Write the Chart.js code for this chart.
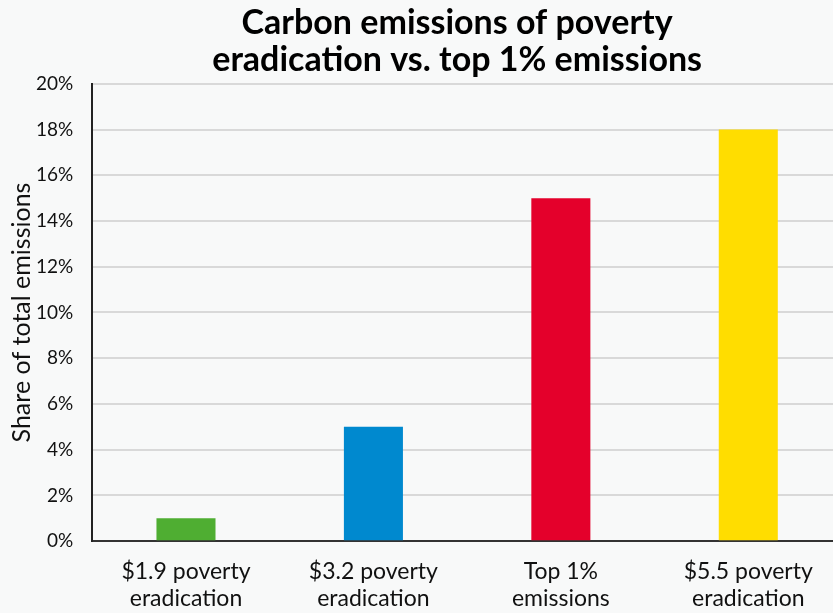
<!DOCTYPE html>
<html><head><meta charset="utf-8">
<script src="https://cdn.jsdelivr.net/npm/chart.js@4/dist/chart.umd.min.js"></script>
<style>
html,body{margin:0;padding:0;background:#f8f9f9;overflow:hidden;}
#wrap{width:842px;height:613px;}
</style></head>
<body><div id="wrap"><canvas id="c"></canvas></div>
<script>
const categories = [["$1.9 poverty","eradication"],["$3.2 poverty","eradication"],["Top 1%","emissions"],["$5.5 poverty","eradication"]];
const shareValues = [1, 5, 15, 18];
const barColors = ["#4fae32","#0089cf","#e4002b","#ffdd00"];
const titleLines = ["Carbon emissions of poverty","eradication vs. top 1% emissions"];
const yAxisTitle = "Share of total emissions";

const titleShift = {
  id: 'titleShift',
  afterLayout(chart) { if (chart.titleBlock) { chart.titleBlock.right -= 20; } }
};

new Chart(document.getElementById('c'), {
  type: 'bar',
  data: { labels: categories, datasets: [{ data: shareValues, backgroundColor: barColors, barPercentage: 0.63, categoryPercentage: 0.5 }] },
  options: {
    responsive: true, maintainAspectRatio: false, animation: false,
    devicePixelRatio: 1,
    layout: { padding: { left: 4, right: 0, top: 4, bottom: -16 } },
    plugins: {
      legend: { display: false }, tooltip: { enabled: false },
      title: { display: true, text: titleLines, fullSize: false, color: '#000',
        font: { family: 'Lato', size: 34, weight: 'bold', lineHeight: 1.1 }, padding: { top: 0, bottom: 5 } }
    },
    scales: {
      x: {
        grid: { display: false, drawTicks: false },
        border: { display: true, color: '#333', width: 2 },
        ticks: { color: '#111', font: { family: 'Lato', size: 23, lineHeight: 1.17 }, padding: 17, maxRotation: 0, autoSkip: false }
      },
      y: {
        min: 0, max: 20,
        grid: { color: '#d9d9d9', lineWidth: 2, drawTicks: false },
        border: { display: true, color: '#222', width: 2 },
        ticks: { stepSize: 2, color: '#111', padding: 19, font: { family: 'Lato', size: 19 }, callback: v => v + '%' },
        title: { display: true, text: yAxisTitle, color: '#111', font: { family: 'Lato', size: 25 }, padding: { top: 3, bottom: -20 } }
      }
    }
  },
  plugins: [titleShift]
});
</script></body></html>
